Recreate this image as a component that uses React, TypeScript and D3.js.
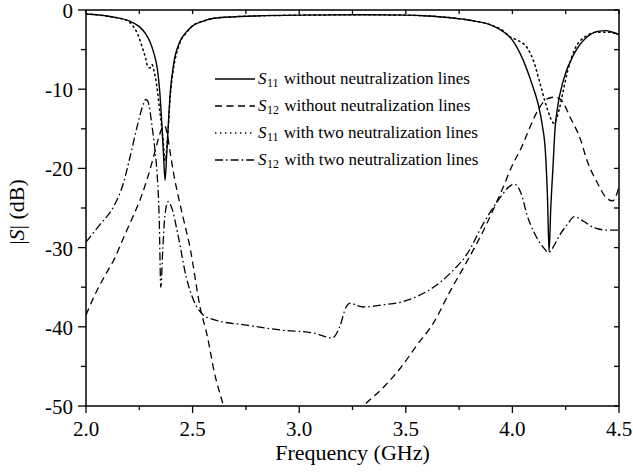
import React from "react";
import * as d3 from "d3";

// ---- data (frequency in GHz, |S| in dB) ----
const s11WithoutF = [2.0, 2.05, 2.1, 2.15, 2.2, 2.25, 2.28, 2.3, 2.32, 2.335, 2.345, 2.355, 2.363, 2.371, 2.378, 2.385, 2.395, 2.41, 2.44, 2.47, 2.5, 2.55, 2.6, 2.7, 2.8, 3.0, 3.3, 3.5, 3.6, 3.7, 3.8, 3.9, 3.95, 4.0, 4.05, 4.09, 4.12, 4.14, 4.155, 4.165, 4.172, 4.18, 4.19, 4.2, 4.21, 4.24, 4.29, 4.35, 4.4, 4.44, 4.48, 4.5];
const s11WithoutDb = [-0.5, -0.6, -0.75, -1.0, -1.35, -2.1, -3.0, -4.0, -5.6, -7.5, -10, -14, -18, -21.5, -18.5, -15, -10.5, -7, -4, -2.8, -2.0, -1.4, -1.05, -0.85, -0.75, -0.65, -0.6, -0.65, -0.75, -0.95, -1.3, -1.9, -2.6, -3.8, -6.3, -9.2, -11.8, -14.5, -18, -24, -30.5, -25, -20, -15, -12.6, -8.8, -5.5, -3.4, -2.7, -2.6, -2.9, -3.1];

const s12WithoutF = [2.0, 2.05, 2.1, 2.13, 2.18, 2.22, 2.26, 2.285, 2.31, 2.325, 2.34, 2.355, 2.368, 2.38, 2.395, 2.41, 2.44, 2.49, 2.535, 2.57, 2.6, 2.645, 2.7, 2.9, 3.1, 3.2, 3.3, 3.4, 3.475, 3.55, 3.63, 3.71, 3.79, 3.865, 3.945, 4.005, 4.04, 4.07, 4.1, 4.13, 4.165, 4.2, 4.23, 4.27, 4.32, 4.35, 4.4, 4.44, 4.47, 4.49, 4.5];
const s12WithoutDb = [-38.5, -35.5, -33, -31.6, -28.5, -26.1, -23.5, -21.5, -19.2, -17.7, -16.2, -15, -14.6, -15.5, -18, -20.5, -24.4, -30.3, -37.5, -41.3, -45.5, -50, -55, -57, -55.5, -52.7, -50, -47.5, -45.2, -42.4, -39.5, -35.4, -31.6, -27.8, -23.1, -19.3, -17.5, -15.6, -13.7, -12.2, -11.2, -11.0, -11.4, -13.5, -16.4, -19, -21.9, -23.7, -24.1, -23.2, -22.3];

const s11WithF = [2.0, 2.05, 2.1, 2.15, 2.19, 2.22, 2.245, 2.265, 2.28, 2.29, 2.3, 2.31, 2.32, 2.33, 2.345, 2.36, 2.372, 2.38, 2.388, 2.395, 2.41, 2.44, 2.47, 2.5, 2.55, 2.6, 2.7, 2.8, 3.0, 3.3, 3.5, 3.6, 3.7, 3.8, 3.9, 3.95, 3.99, 4.03, 4.07, 4.1, 4.13, 4.165, 4.195, 4.22, 4.24, 4.26, 4.29, 4.34, 4.4, 4.45, 4.5];
const s11WithDb = [-0.5, -0.6, -0.8, -1.0, -1.3, -2.0, -3.2, -4.8, -6.1, -7.2, -7.3, -6.9, -7.8, -9.2, -12.5, -16, -19, -17, -14, -11, -7.5, -4.2, -2.9, -2.0, -1.4, -1.05, -0.85, -0.75, -0.65, -0.6, -0.65, -0.75, -0.95, -1.3, -1.9, -2.5, -3.4, -3.9, -4.8, -6.5, -9.3, -12.6, -14.3, -12.5, -10, -7.6, -5.1, -3.4, -2.8, -2.8, -3.1];

const s12WithF = [2.0, 2.065, 2.13, 2.175, 2.207, 2.24, 2.265, 2.28, 2.29, 2.31, 2.325, 2.333, 2.343, 2.351, 2.36, 2.37, 2.385, 2.4, 2.43, 2.47, 2.52, 2.55, 2.6, 2.755, 2.91, 3.07, 3.155, 3.19, 3.22, 3.24, 3.27, 3.3, 3.4, 3.475, 3.55, 3.63, 3.71, 3.79, 3.865, 3.945, 3.985, 4.01, 4.04, 4.07, 4.1, 4.14, 4.17, 4.19, 4.22, 4.26, 4.29, 4.335, 4.385, 4.45, 4.5];
const s12WithDb = [-29.3, -27.1, -24.8, -21.9, -18.5, -14.7, -12.2, -11.3, -11.5, -14.7, -18.1, -20.5, -26, -35, -30.3, -26, -24.2, -24.8, -28.2, -33.7, -37.5, -38.5, -39.1, -39.8, -40.4, -40.8, -41.4, -40.0, -37.5, -37.0, -37.3, -37.5, -37.2, -36.9, -36.2, -35.0, -33.2, -30.7, -26.9, -23.6, -22.3, -22.0, -23.1, -26, -28, -29.8, -30.6, -30, -28.5, -27, -26.1, -26.7, -27.5, -27.8, -27.8];

const xTicks = [2.0, 2.5, 3.0, 3.5, 4.0, 4.5];
const yTicks = [0, -10, -20, -30, -40, -50];
const legendSub = ["11", "12", "11", "12"];
const legendText = ["without neutralization lines", "without neutralization lines", "with two neutralization lines", "with two neutralization lines"];

const W = 633, H = 475;
const M = { left: 86, right: 619, top: 10, bottom: 406 };
const FONT = '"Liberation Serif"';

const series = [
  { f: s11WithoutF, v: s11WithoutDb, dash: "none", w: 1.4 },
  { f: s12WithoutF, v: s12WithoutDb, dash: "7 4.5", w: 1.3 },
  { f: s11WithF, v: s11WithDb, dash: "1.4 3.6", w: 1.5 },
  { f: s12WithF, v: s12WithDb, dash: "8 3 1.6 3", w: 1.3 },
];

function Label(props: { x: number; y: number; size: number; anchor?: string; transform?: string; children: React.ReactNode }) {
  return (
    <text
      x={props.x}
      y={props.y}
      transform={props.transform}
      fontSize={props.size}
      textAnchor={props.anchor || "start"}
      fill="#000"
      style={{ fontFamily: FONT }}
    >
      {props.children}
    </text>
  );
}

export default function App() {
  const x = d3.scaleLinear().domain([2.0, 4.5]).range([M.left, M.right]);
  const y = d3.scaleLinear().domain([0, -50]).range([M.top, M.bottom]);
  const line = d3
    .line<[number, number]>()
    .x((d) => x(d[0]))
    .y((d) => y(d[1]))
    .curve(d3.curveMonotoneX);

  const minorX = d3.range(2.0, 4.5001, 0.25);
  const minorY = d3.range(0, -50.001, -5);

  const legendX0 = 215, legendX1 = 255, legendY = [79, 106, 133, 160];

  return (
    <svg width={W} height={H} style={{ display: "block", position: "absolute", left: 0, top: 0, background: "#fff" }}>
      <defs>
        <clipPath id="plotclip">
          <rect x={M.left} y={M.top} width={M.right - M.left} height={M.bottom - M.top} />
        </clipPath>
      </defs>
      {/* curves */}
      <g clipPath="url(#plotclip)" fill="none" stroke="#000">
        {series.map((s, i) => (
          <path
            key={i}
            d={line(s.f.map((f, j) => [f, s.v[j]] as [number, number])) || ""}
            strokeWidth={s.w}
            strokeDasharray={s.dash === "none" ? undefined : s.dash}
            strokeLinecap={i === 2 ? "round" : "butt"}
          />
        ))}
      </g>
      {/* frame */}
      <rect x={M.left} y={M.top} width={M.right - M.left} height={M.bottom - M.top} fill="none" stroke="#000" strokeWidth={1.5} />
      {/* bottom ticks (outward) and top ticks (inward) */}
      {minorX.map((t, i) => {
        const major = Math.abs((t * 2) - Math.round(t * 2)) < 1e-6;
        return (
          <g key={"xt" + i} stroke="#000" strokeWidth={1.3}>
            <line x1={x(t)} x2={x(t)} y1={M.bottom} y2={M.bottom + (major ? 7 : 4)} />
            <line x1={x(t)} x2={x(t)} y1={M.top} y2={M.top + 4} />
          </g>
        );
      })}
      {/* left ticks (outward) and right ticks (inward) */}
      {minorY.map((t, i) => {
        const major = Math.abs(t % 10) < 1e-6;
        return (
          <g key={"yt" + i} stroke="#000" strokeWidth={1.3}>
            <line x1={M.left - (major ? 8 : 5)} x2={M.left} y1={y(t)} y2={y(t)} />
            <line x1={M.right - 5} x2={M.right} y1={y(t)} y2={y(t)} />
          </g>
        );
      })}
      {/* tick labels */}
      {xTicks.map((t) => (
        <Label key={"xl" + t} x={x(t)} y={436} size={21} anchor="middle">
          {t.toFixed(1)}
        </Label>
      ))}
      {yTicks.map((t) => (
        <Label key={"yl" + t} x={73} y={y(t) + 8} size={21} anchor="end">
          {t === 0 ? "0" : String(t)}
        </Label>
      ))}
      {/* axis titles */}
      <Label x={(M.left + M.right) / 2} y={460} size={22} anchor="middle">
        Frequency (GHz)
      </Label>
      <Label x={0} y={0} transform={`translate(24, 212) rotate(-90)`} size={22} anchor="middle">
        |<tspan fontStyle="italic">S</tspan>| (dB)
      </Label>
      {/* legend */}
      {series.map((s, i) => (
        <g key={"lg" + i}>
          <line
            x1={legendX0}
            x2={legendX1}
            y1={legendY[i]}
            y2={legendY[i]}
            stroke="#000"
            strokeWidth={s.w}
            strokeDasharray={s.dash === "none" ? undefined : s.dash}
          />
          <Label x={legendX1 + 3} y={legendY[i] + 5} size={17}>
            <tspan fontStyle="italic">S</tspan>
            <tspan fontSize={12} dx={0.5} dy={3}>{legendSub[i]}</tspan>
            <tspan dx={1} dy={-3}> {legendText[i]}</tspan>
          </Label>
        </g>
      ))}
    </svg>
  );
}
